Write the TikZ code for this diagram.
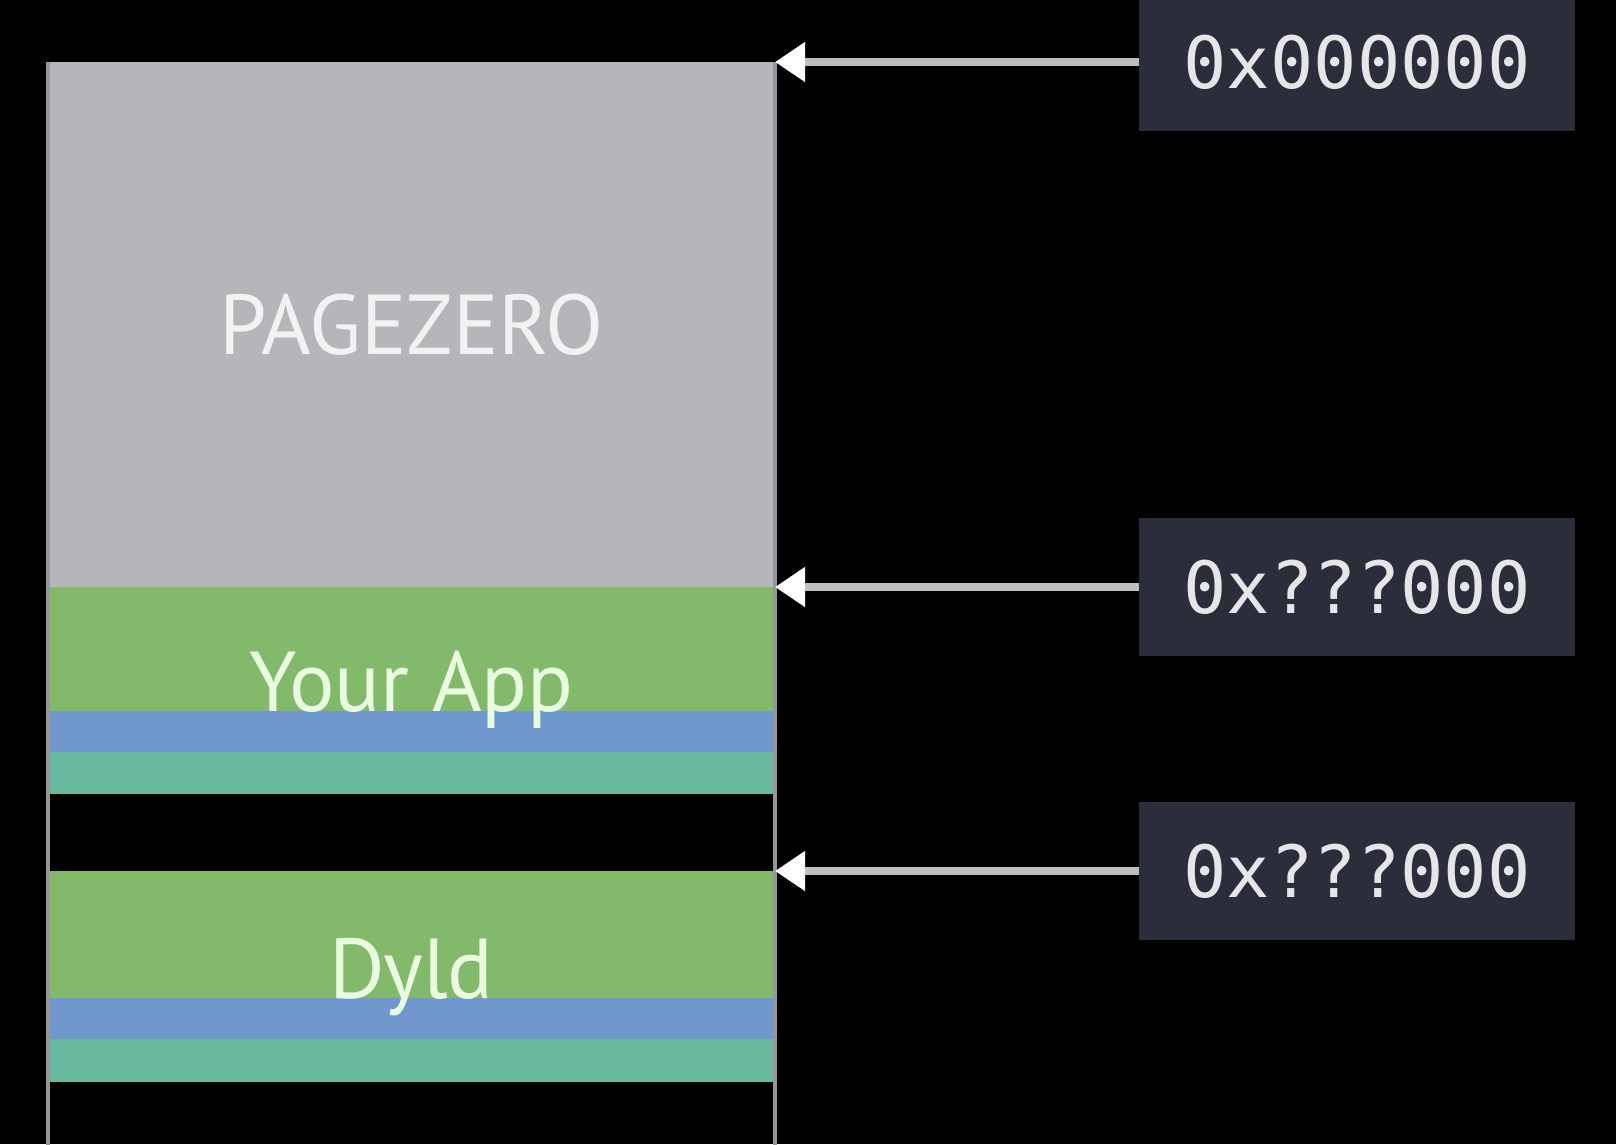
\documentclass[tikz,border=0pt]{standalone}
\usepackage{fontspec}
\newfontfamily\segfont{PT Sans}
\newfontfamily\addrfont{DejaVu Sans Mono}
\usetikzlibrary{arrows.meta,positioning}

\definecolor{pzgray}{HTML}{B6B6BA}
\definecolor{seggreen}{HTML}{83B96B}
\definecolor{segblue}{HTML}{7098CC}
\definecolor{segteal}{HTML}{69B9A1}
\definecolor{addrbg}{HTML}{2C2D3B}
\definecolor{addrtext}{HTML}{E6E6E8}
\definecolor{ptrgray}{HTML}{BEBEC0}
\definecolor{railgray}{HTML}{96969A}
\definecolor{labelwhite}{HTML}{F2F2F2}
\definecolor{labelgreen}{HTML}{EAFCE0}

\tikzset{
  seg/.style={rectangle, inner sep=0pt, outer sep=0pt, minimum width=727pt, anchor=north west},
  seglabel/.style={font=\segfont\fontsize{85}{85}\selectfont, anchor=base, inner sep=0pt},
  addr/.style={rectangle, fill=addrbg, inner sep=0pt, outer sep=0pt, minimum width=436pt,
    minimum height=138pt, anchor=west, text=addrtext, font=\addrfont\fontsize{72}{72}\selectfont},
  ptr/.style={draw=ptrgray, line width=8pt, -{Triangle[length=30pt,width=38pt,color=white]}},
  rail/.style={draw=railgray, line width=4pt}
}

\begin{document}
\begin{tikzpicture}[x=1pt,y=-1pt]
    \fill[black] (0,0) rectangle (1616,1144);
    \useasboundingbox (0,0) rectangle (1616,1144);
    \clip (0,0) rectangle (1616,1144);

    \node[seg, fill=pzgray, minimum height=525pt] (pz) at (48,62) {};
    \node[seg, fill=seggreen, minimum height=124pt, below=0pt of pz] (app) {};
    \node[seg, fill=segblue, minimum height=41pt, below=0pt of app] (appblue) {};
    \node[seg, fill=segteal, minimum height=42pt, below=0pt of appblue] (appteal) {};
    \node[seg, fill=seggreen, minimum height=127pt, below=77pt of appteal] (dyld) {};
    \node[seg, fill=segblue, minimum height=41pt, below=0pt of dyld] (dyldblue) {};
    \node[seg, fill=segteal, minimum height=43pt, below=0pt of dyldblue] (dyldteal) {};

    \draw[rail] (pz.north west) -- ++(0,1090);
    \draw[rail] (pz.north east) -- ++(0,1090);

    \node[seglabel, text=labelwhite] (pzlabel) at ([yshift=-30pt]pz.center) {PAGEZERO};
    \node[seglabel, text=labelgreen] (applabel) at (app.south) {Your App};
    \node[seglabel, text=labelgreen] (dyldlabel) at (dyld.south) {Dyld};

    \node[addr] (addr0) at (pz.north east -| 1139,0) {0x000000};
    \node[addr] (addr1) at (app.north east -| 1139,0) {0x???000};
    \node[addr] (addr2) at (dyld.north east -| 1139,0) {0x???000};

    \draw[ptr] (addr0.west) -- (pz.north east);
    \draw[ptr] (addr1.west) -- (app.north east);
    \draw[ptr] (addr2.west) -- (dyld.north east);
\end{tikzpicture}
\end{document}
